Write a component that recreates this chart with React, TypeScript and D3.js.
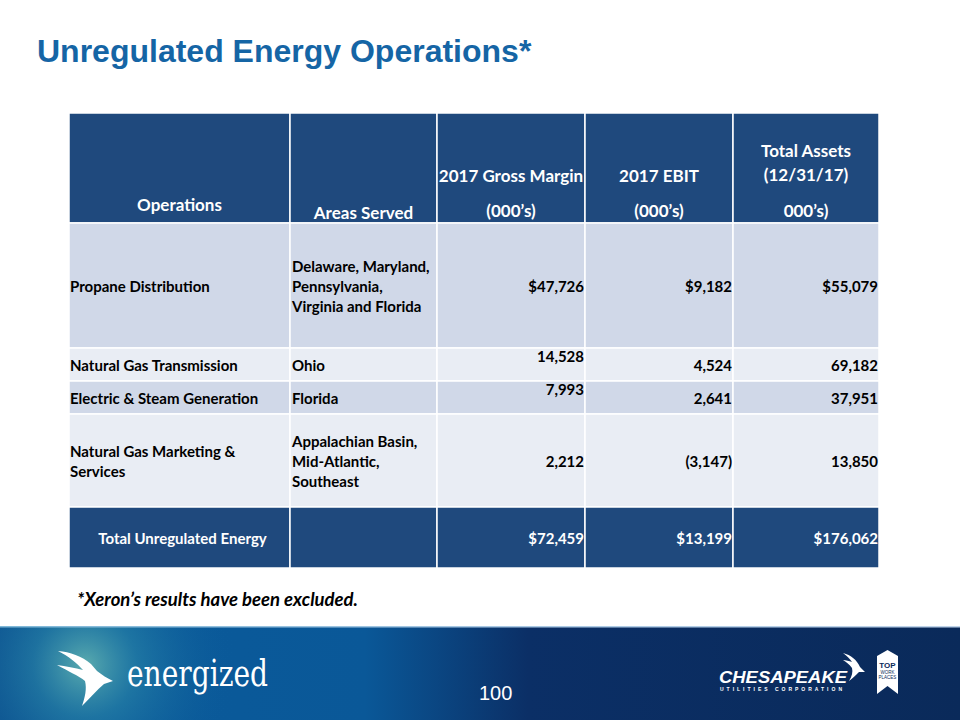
import React from "react";
import * as d3 from "d3";

const TITLE = "Unregulated Energy Operations*";
const FOOTNOTE = "*Xeron’s results have been excluded.";
const PAGE_NUMBER = "100";

const headerCells: string[][] = [
  ["Operations"],
  ["Areas Served"],
  ["2017 Gross Margin", "(000’s)"],
  ["2017 EBIT", "(000’s)"],
  ["Total Assets", "(12/31/17)", "000’s)"],
];

const operations: string[][] = [
  ["Propane Distribution"],
  ["Natural Gas Transmission"],
  ["Electric & Steam Generation"],
  ["Natural Gas Marketing &", "Services"],
];
const areasServed: string[][] = [
  ["Delaware, Maryland,", "Pennsylvania,", "Virginia and Florida"],
  ["Ohio"],
  ["Florida"],
  ["Appalachian Basin,", "Mid-Atlantic,", "Southeast"],
];
const grossMargin = [47726, 14528, 7993, 2212];
const ebit = [9182, 4524, 2641, -3147];
const totalAssets = [55079, 69182, 37951, 13850];
const showDollar = [true, false, false, false];

const totalLabel = "Total Unregulated Energy";
const totals = [72459, 13199, 176062];

// ---- layout ----
const W = 960;
const H = 720;
const TABLE_LEFT = 69;
const colWidths = [221, 147, 148, 148, 146];
const TABLE_TOP = 113;
const rowHeights = [110, 125, 33, 33, 93, 61];

const colEdges = [TABLE_LEFT, ...Array.from(d3.cumsum(colWidths), (v) => TABLE_LEFT + v)];
const rowEdges = [TABLE_TOP, ...Array.from(d3.cumsum(rowHeights), (v) => TABLE_TOP + v)];

const HEADER_BLUE = "#1F497D";
const ROW_DARK = "#D0D8E8";
const ROW_LIGHT = "#E9EDF4";
const TABLE_FONT = "Lato, 'Open Sans', sans-serif";

const fmt = d3.format(",");
function fmtVal(v: number, dollar: boolean) {
  const s = fmt(Math.abs(v));
  if (v < 0) return `(${s})`;
  return dollar ? `$${s}` : s;
}

export default function App() {
  const nBody = operations.length;
  const lineH = 20;
  const baseOff = 6.5;

  const cellText = (lines: string[], x: number, rowIdx: number, anchor: string, fill: string, key: string) => {
    const top = rowEdges[rowIdx];
    const bot = rowEdges[rowIdx + 1];
    const c = (top + bot) / 2;
    return lines.map((t, i) => (
      <text
        key={key + i}
        x={x}
        y={c + (i - (lines.length - 1) / 2) * lineH + baseOff}
        textAnchor={anchor as any}
        fill={fill}
        fontFamily={TABLE_FONT}
        fontWeight={700}
        fontSize={15}
      >
        {t}
      </text>
    ));
  };

  const headerY: number[][] = [[211], [219], [182, 217], [182, 217], [157, 181, 217]];

  return (
    <svg
      width={W}
      height={H}
      viewBox={`0 0 ${W} ${H}`}
      style={{ position: "absolute", left: 0, top: 0, background: "#fff" }}
    >
      <defs>
        <linearGradient id="band" x1="0" y1="0" x2="1" y2="0">
          <stop offset="0" stopColor="#0b4f8e" />
          <stop offset="0.12" stopColor="#0a5a9a" />
          <stop offset="0.38" stopColor="#0a5898" />
          <stop offset="0.55" stopColor="#0b2f66" />
          <stop offset="1" stopColor="#0a2a5a" />
        </linearGradient>
        <radialGradient id="glow" cx="85" cy="665" r="150" gradientUnits="userSpaceOnUse">
          <stop offset="0" stopColor="#5fb0b0" stopOpacity="0.95" />
          <stop offset="0.35" stopColor="#2a86a8" stopOpacity="0.6" />
          <stop offset="1" stopColor="#0a5a9a" stopOpacity="0" />
        </radialGradient>
        <linearGradient id="topline" x1="0" y1="0" x2="1" y2="0">
          <stop offset="0" stopColor="#7fb8d8" />
          <stop offset="0.5" stopColor="#a8c8e4" />
          <stop offset="1" stopColor="#c0d4ea" />
        </linearGradient>
      </defs>

      {/* Title */}
      <text
        x={37}
        y={62}
        fill="#1565a5"
        fontFamily="'Liberation Sans', Arial, sans-serif"
        fontWeight={700}
        fontSize={32}
      >
        {TITLE}
      </text>

      {/* Table backgrounds */}
      {rowHeights.map((h, r) => {
        const isHeader = r === 0;
        const isTotal = r === rowHeights.length - 1;
        const fill = isHeader || isTotal ? HEADER_BLUE : r % 2 === 1 ? ROW_DARK : ROW_LIGHT;
        return colWidths.map((w, c) => (
          <rect
            key={`bg${r}-${c}`}
            x={colEdges[c]}
            y={rowEdges[r]}
            width={w}
            height={h}
            fill={fill}
            stroke="#ffffff"
            strokeWidth={1.5}
          />
        ));
      })}

      {/* Header */}
      {headerCells.map((lines, c) => {
        const cx = (colEdges[c] + colEdges[c + 1]) / 2;
        return lines.map((t, i) => (
          <text
            key={`h${c}-${i}`}
            x={cx}
            y={headerY[c][i]}
            textAnchor="middle"
            fill="#ffffff"
            fontFamily={TABLE_FONT}
            fontWeight={700}
            fontSize={17}
          >
            {t}
          </text>
        ));
      })}

      {/* Body */}
      {d3.range(nBody).map((i) => {
        const r = i + 1;
        const compact = rowHeights[r] < 40;
        const vals = [grossMargin[i], ebit[i], totalAssets[i]];
        return (
          <g key={`row${i}`}>
            {cellText(operations[i], colEdges[0] + 1, r, "start", "#000", `op${i}`)}
            {cellText(areasServed[i], colEdges[1] + 2, r, "start", "#000", `ar${i}`)}
            {vals.map((v, j) => {
              const x = colEdges[j + 3] - 1;
              const label = fmtVal(v, showDollar[i]);
              if (compact && j === 0) {
                return (
                  <text
                    key={`v${i}-${j}`}
                    x={x}
                    y={rowEdges[r] + 14}
                    textAnchor="end"
                    fill="#000"
                    fontFamily={TABLE_FONT}
                    fontWeight={700}
                    fontSize={15}
                  >
                    {label}
                  </text>
                );
              }
              return cellText([label], x, r, "end", "#000", `v${i}-${j}`);
            })}
          </g>
        );
      })}

      {/* Total row */}
      {(() => {
        const r = rowHeights.length - 1;
        return (
          <g>
            {cellText([totalLabel], (colEdges[0] + colEdges[1]) / 2 + 3, r, "middle", "#fff", "tl")}
            {totals.map((v, j) => cellText([fmtVal(v, true)], colEdges[j + 3] - 1, r, "end", "#fff", `t${j}`))}
          </g>
        );
      })()}

      {/* Footnote */}
      <text
        x={77}
        y={606}
        fill="#000"
        fontFamily={TABLE_FONT}
        fontWeight={700}
        fontStyle="italic"
        fontSize={18.5}
      >
        {FOOTNOTE}
      </text>

      {/* Footer band */}
      <rect x={0} y={627} width={W} height={H - 627} fill="url(#band)" />
      <rect x={0} y={627} width={W} height={H - 627} fill="url(#glow)" />
      <rect x={0} y={626} width={W} height={1.5} fill="url(#topline)" />

      {/* energized logo */}
      <path
        d="M58,651 C70,652 82,656 91,664 L97,671 C102,675 107,678 113,681 L104,684 C97,690 90,698 82,706 C85,697 87,689 85,681 C79,676 68,671 57,665 C66,666 75,668 83,670 C77,663 68,656 58,651 Z"
        fill="#ffffff"
      />
      <text
        x={127}
        y={686}
        fill="#ffffff"
        fontFamily="'DejaVu Serif', 'Liberation Serif', serif"
        fontSize={38}
        textLength={141}
        lengthAdjust="spacingAndGlyphs"
      >
        energized
      </text>

      {/* Page number */}
      <text
        x={479}
        y={700}
        fill="#ffffff"
        fontFamily="'Liberation Sans', Arial, sans-serif"
        fontSize={20}
      >
        {PAGE_NUMBER}
      </text>

      {/* Chesapeake logo */}
      <text
        x={719}
        y={683}
        fill="#ffffff"
        fontFamily="'Liberation Sans', Arial, sans-serif"
        fontWeight={700}
        fontStyle="italic"
        fontSize={16}
        textLength={128}
        lengthAdjust="spacingAndGlyphs"
      >
        CHESAPEAKE
      </text>
      <text
        x={720}
        y={690.5}
        fill="#ffffff"
        fontFamily="'Liberation Sans', Arial, sans-serif"
        fontWeight={700}
        fontSize={5}
        textLength={122}
        lengthAdjust="spacing"
      >
        UTILITIES CORPORATION
      </text>
      <path
        d="M843,653 C851,655 857,660 860,667 L865,672 L859,672 C856,675 853,678 849,681 C852,676 853,672 852,668 C849,664 846,662 843,660 C846,660 849,661 852,662 C850,659 847,656 843,653 Z"
        fill="#ffffff"
      />
      <path d="M877,656 L887.5,650 L898,656 L898,694 L887.5,686 L877,694 Z" fill="#ffffff" />
      <text x={887.5} y={668} textAnchor="middle" fill="#0a2a5a" fontFamily="'Liberation Sans', Arial, sans-serif" fontWeight={700} fontSize={8}>
        TOP
      </text>
      <text x={887.5} y={674} textAnchor="middle" fill="#0a2a5a" fontFamily="'Liberation Sans', Arial, sans-serif" fontSize={4.5}>
        WORK
      </text>
      <text x={887.5} y={679} textAnchor="middle" fill="#0a2a5a" fontFamily="'Liberation Sans', Arial, sans-serif" fontSize={4.5}>
        PLACES
      </text>
    </svg>
  );
}
